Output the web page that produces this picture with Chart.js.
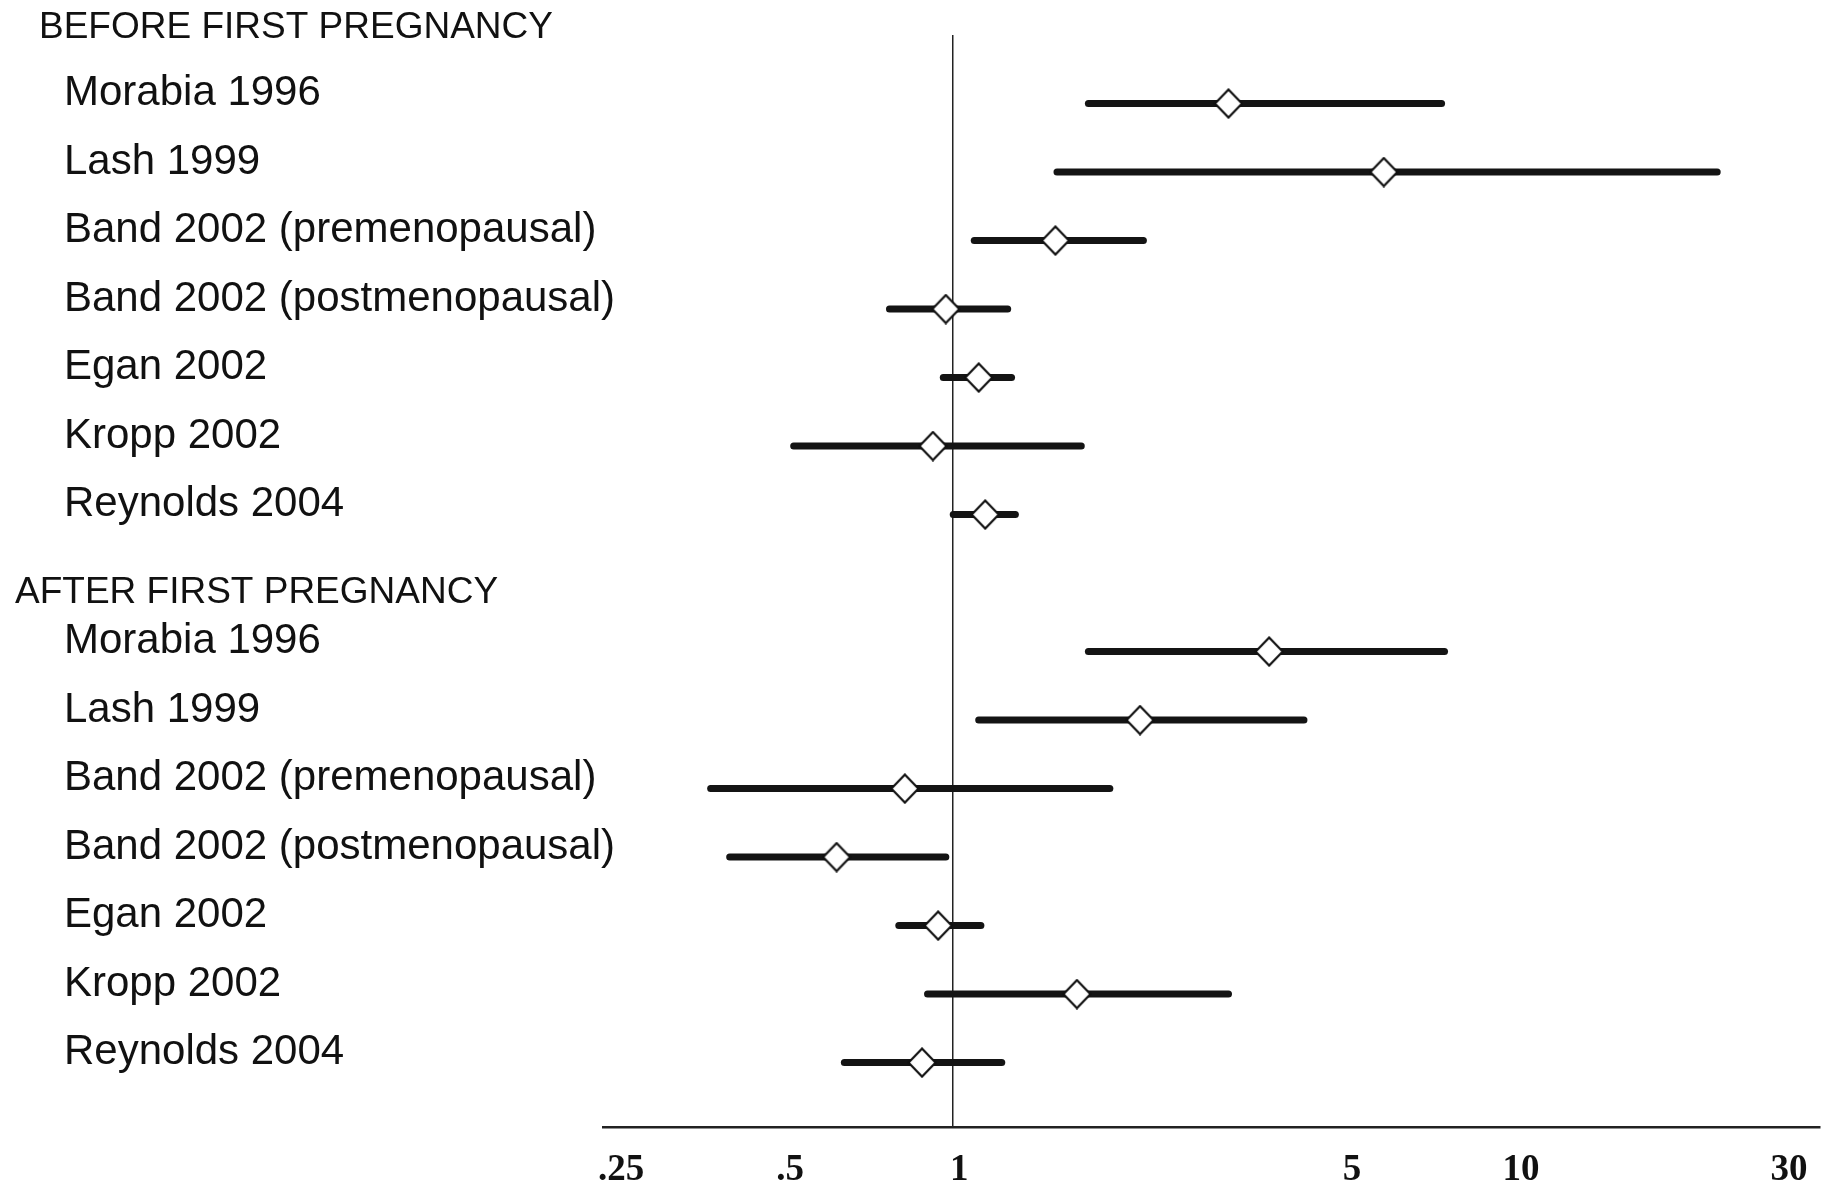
<!DOCTYPE html>
<html>
<head>
<meta charset="utf-8">
<script src="https://cdn.jsdelivr.net/npm/chart.js@4/dist/chart.umd.min.js"></script>
<style>
  html, body { margin: 0; padding: 0; background: #fff; }
  canvas { display: block; }
</style>
</head>
<body>
<canvas id="c" width="1836" height="1183"></canvas>
<script>
// ---- data ----
const groups = ['BEFORE FIRST PREGNANCY', 'AFTER FIRST PREGNANCY'];
const studies = ['Morabia 1996', 'Lash 1999', 'Band 2002 (premenopausal)', 'Band 2002 (postmenopausal)', 'Egan 2002', 'Kropp 2002', 'Reynolds 2004'];
const beforeOR = [3.09, 5.84, 1.52, 0.97, 1.11, 0.92, 1.14];
const beforeLo = [1.74, 1.53, 1.09, 0.77, 0.96, 0.52, 1.00];
const beforeHi = [7.40, 22.9, 2.18, 1.25, 1.27, 1.69, 1.29];
const afterOR  = [3.65, 2.15, 0.82, 0.62, 0.94, 1.66, 0.88];
const afterLo  = [1.74, 1.11, 0.37, 0.40, 0.80, 0.90, 0.64];
const afterHi  = [7.49, 4.21, 1.90, 0.97, 1.12, 3.09, 1.22];
const tickValues = [0.25, 0.5, 1, 5, 10, 30];
const tickLabels = ['.25', '.5', '1', '5', '10', '30'];

// ---- rows ----
const rowLabels = [groups[0], ...studies, groups[1], ...studies];
const headerRows = [0, studies.length + 1];
const estimates = [...beforeOR.map((v, i) => ({ x: v, y: i + 1 })),
                   ...afterOR.map((v, i) => ({ x: v, y: i + studies.length + 2 }))];
const intervals = [...beforeLo.map((v, i) => ({ lo: v, hi: beforeHi[i], row: i + 1 })),
                   ...afterLo.map((v, i) => ({ lo: v, hi: afterHi[i], row: i + studies.length + 2 }))];

function makeDiamond(w, h) {
  const c = document.createElement('canvas');
  c.width = w; c.height = h;
  const g = c.getContext('2d');
  g.beginPath();
  g.moveTo(w / 2, 1.5); g.lineTo(w - 1.5, h / 2); g.lineTo(w / 2, h - 1.5); g.lineTo(1.5, h / 2);
  g.closePath();
  g.fillStyle = '#ffffff'; g.fill();
  g.lineWidth = 2.2; g.strokeStyle = '#111'; g.stroke();
  return c;
}
const diamond = makeDiamond(30, 31);

const datasets = [{
  type: 'scatter',
  data: estimates,
  pointStyle: diamond,
  pointRadius: 15,
  showLine: false
}];
intervals.forEach(ci => {
  datasets.push({
    type: 'line',
    data: [{ x: ci.lo, y: ci.row }, { x: ci.hi, y: ci.row }],
    borderColor: '#141414',
    borderWidth: 7,
    borderCapStyle: 'round',
    pointRadius: 0,
    showLine: true,
    fill: false
  });
});

const headerPlugin = {
  id: 'headers',
  afterDraw(chart) {
    const ys = chart.scales.y;
    const ctx = chart.ctx;
    const indents = [39, 15];
    const shifts = [-7, 10];
    ctx.save();
    ctx.font = '37px "Liberation Sans", Arial, sans-serif';
    ctx.fillStyle = '#111';
    ctx.textBaseline = 'middle';
    ctx.textAlign = 'left';
    headerRows.forEach((r, i) => {
      ctx.fillText(rowLabels[r], indents[i], ys.getPixelForValue(r) + shifts[i]);
    });
    ctx.restore();
  }
};

new Chart(document.getElementById('c'), {
  type: 'scatter',
  data: { datasets },
  plugins: [headerPlugin],
  options: {
    responsive: false,
    animation: false,
    devicePixelRatio: 1,
    layout: { padding: { top: 35, right: 7, left: 64, bottom: 0 } },
    plugins: { legend: { display: false }, tooltip: { enabled: false } },
    scales: {
      x: {
        type: 'logarithmic',
        min: 0.238,
        max: 34.9,
        afterBuildTicks: s => { s.ticks = tickValues.map(v => ({ value: v })); },
        afterFit: s => { s.height = 56; },
        ticks: {
          autoSkip: false,
          maxRotation: 0,
          padding: 21,
          labelOffset: 6,
          color: '#111',
          font: { family: '"Liberation Serif", "Times New Roman", serif', size: 37, weight: 'bold' },
          callback: (v) => { const i = tickValues.indexOf(v); return i >= 0 ? tickLabels[i] : ''; }
        },
        grid: {
          drawTicks: false,
          lineWidth: 1.5,
          color: c => (c.tick && c.tick.value === 1) ? '#222' : 'rgba(0,0,0,0)'
        },
        border: { display: true, color: '#222', width: 2.5 }
      },
      y: {
        type: 'linear',
        reverse: true,
        min: 0,
        max: 15.94,
        afterBuildTicks: s => { s.ticks = rowLabels.map((_, i) => ({ value: i })); },
        afterFit: s => { s.width = 539; },
        ticks: {
          autoSkip: false,
          mirror: true,
          crossAlign: 'near',
          padding: -539,
          labelOffset: -10,
          color: '#111',
          font: { family: '"Liberation Sans", Arial, sans-serif', size: 42 },
          callback: (v) => headerRows.includes(v) ? '' : rowLabels[v]
        },
        grid: { display: false },
        border: { display: false }
      }
    }
  }
});
</script>
</body>
</html>
